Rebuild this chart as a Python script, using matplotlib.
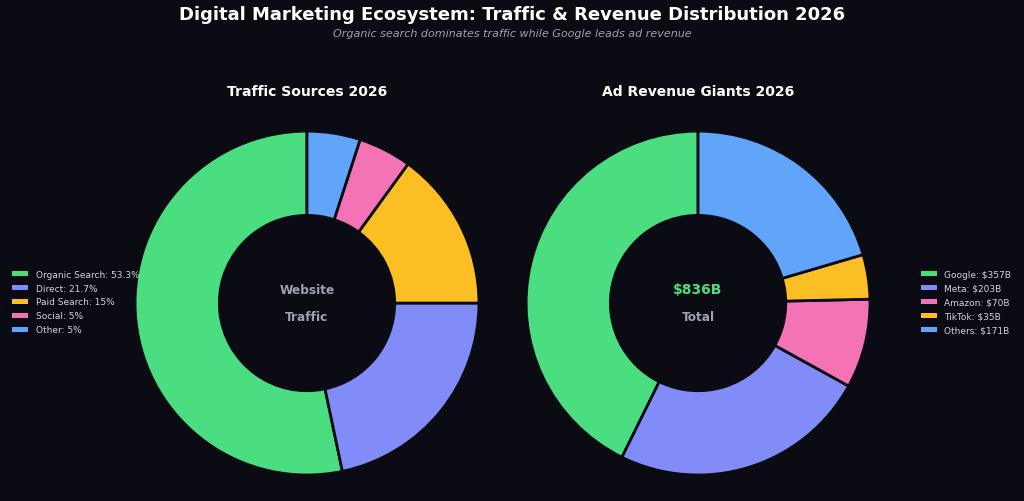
import matplotlib
matplotlib.use('Agg')
import matplotlib.pyplot as plt
from matplotlib.patches import Patch

# Data
traffic_labels = ['Organic Search', 'Direct', 'Paid Search', 'Social', 'Other']
traffic_values = [53.3, 21.7, 15, 5, 5]
revenue_labels = ['Google', 'Meta', 'Amazon', 'TikTok', 'Others']
revenue_values = [357, 203, 70, 35, 171]

bg = '#0b0c13'
traffic_colors = ['#4ade80', '#818cf8', '#fbbf24', '#f472b6', '#60a5fa']
revenue_colors = ['#4ade80', '#818cf8', '#f472b6', '#fbbf24', '#60a5fa']

fig = plt.figure(figsize=(10.24, 5.02), dpi=100, facecolor=bg)

fig.text(0.5, 0.970, 'Digital Marketing Ecosystem: Traffic & Revenue Distribution 2026',
         ha='center', va='center', color='white', fontsize=13, fontweight='bold')
fig.text(0.5, 0.932, 'Organic search dominates traffic while Google leads ad revenue',
         ha='center', va='center', color='#9ca3af', fontsize=8, style='italic')

def donut(rect, values, colors):
    ax = fig.add_axes(rect)
    ax.set_facecolor(bg)
    ax.pie(values, colors=colors, startangle=90, counterclock=True, radius=1,
           wedgeprops=dict(width=0.49, edgecolor=bg, linewidth=2))
    ax.set_xlim(-1.0, 1.0)
    ax.set_ylim(-1.0, 1.0)
    ax.set_aspect('equal')
    return ax

ax1 = donut([0.1318, 0.0518, 0.336, 0.685], traffic_values, traffic_colors)
ax2 = donut([0.5137, 0.0518, 0.336, 0.685], revenue_values, revenue_colors)

fig.text(307 / 1024, 1 - 92 / 502, 'Traffic Sources 2026', ha='center', va='center',
         color='white', fontsize=10, fontweight='bold')
fig.text(698 / 1024, 1 - 92 / 502, 'Ad Revenue Giants 2026', ha='center', va='center',
         color='white', fontsize=10, fontweight='bold')

ax1.text(0, 0.08, 'Website', ha='center', va='center', color='#9ca3af',
         fontsize=8.7, fontweight='bold')
ax1.text(0, -0.08, 'Traffic', ha='center', va='center', color='#9ca3af',
         fontsize=8.7, fontweight='bold')
total = sum(revenue_values)
ax2.text(0, 0.08, f'${total}B', ha='center', va='center', color='#4ade80',
         fontsize=10, fontweight='bold')
ax2.text(0, -0.08, 'Total', ha='center', va='center', color='#9ca3af',
         fontsize=8.7, fontweight='bold')

def add_legend(labels, colors, x):
    handles = [Patch(facecolor=c, edgecolor='none') for c in colors]
    leg = fig.legend(handles, labels, loc='center left', bbox_to_anchor=(x, 1 - 303 / 502),
                     frameon=False, fontsize=6.5, labelcolor='#d1d5db',
                     handlelength=1.8, handleheight=0.5, handletextpad=0.8,
                     labelspacing=0.55)
    return leg

add_legend([f'{l}: {v}%' for l, v in zip(traffic_labels, traffic_values)], traffic_colors, 0.004)
add_legend([f'{l}: ${v}B' for l, v in zip(revenue_labels, revenue_values)], revenue_colors, 0.891)

fig.savefig('out.png', dpi=100, facecolor=bg)
